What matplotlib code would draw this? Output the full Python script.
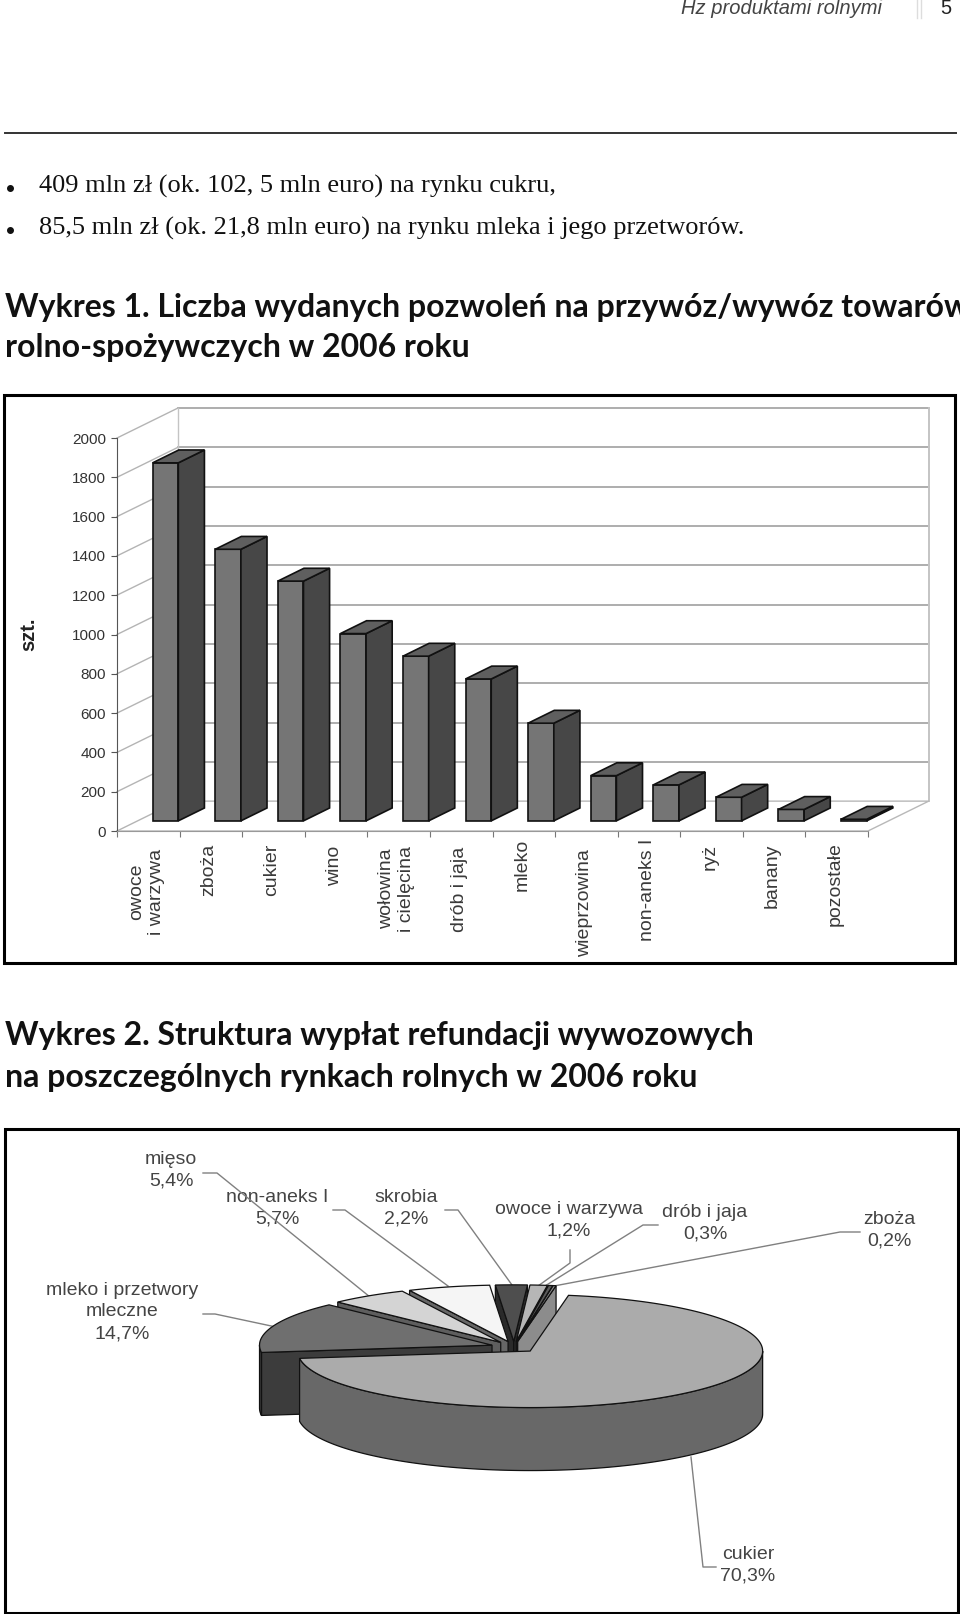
import numpy as np
import matplotlib
matplotlib.use("Agg")
import matplotlib.pyplot as plt
from matplotlib.patches import Polygon, Rectangle

# wykres 1
categories = ["owoce\ni warzywa", "zboża", "cukier", "wino", "wołowina\ni cielęcina",
              "drób i jaja", "mleko", "wieprzowina", "non-aneks I", "ryż", "banany", "pozostałe"]
permits = [1822, 1382, 1220, 953, 838, 722, 497, 230, 183, 120, 58, 8]
y_ticks = [0, 200, 400, 600, 800, 1000, 1200, 1400, 1600, 1800, 2000]

# wykres 2, clockwise from the first slice
pie_names = ["cukier", "mleko i przetwory\nmleczne", "mięso", "non-aneks I", "skrobia",
             "owoce i warzywa", "drób i jaja", "zboża"]
pie_labels = ["70,3%", "14,7%", "5,4%", "5,7%", "2,2%", "1,2%", "0,3%", "0,2%"]
pie_shares = [70.3, 14.7, 5.4, 5.7, 2.2, 1.2, 0.3, 0.2]

# styles and layout, all in pixels of the page
W, H = 960, 1614
top_colors = ["#ababab", "#6f6f6f", "#d4d4d4", "#f5f5f5", "#4e4e4e", "#b6b6b6", "#5a5a5a", "#8e8e8e"]
side_colors = ["#686868", "#3c3c3c", "#5e5e5e", "#666666", "#2a2a2a", "#444444", "#2a2a2a", "#8c8c8c"]
label_tops = [18, 13, 13, 15, 15, 16, 8, 18, 8, 13, 13, 11]
pie_text_xy = [(748, 1565), (122, 1312), (171, 1170), (277, 1208), (406, 1208),
               (569, 1220), (705, 1223), (889, 1230)]
leaders = [[(716, 1567), (703, 1567), (691, 1457)],
           [(203, 1314), (215, 1314), (276, 1327)],
           [(203, 1173), (217, 1173), (370, 1297)],
           [(333, 1210), (345, 1210), (448, 1286)],
           [(445, 1210), (458, 1210), (512, 1285)],
           [(570, 1250), (570, 1263), (538, 1286)],
           [(658, 1225), (643, 1225), (545, 1286)],
           [(860, 1232), (840, 1232), (554, 1286)]]
SERIF = "Liberation Serif"
HEAD = "Lato"
SANS = "Liberation Sans"


def axes_px(fig, left, top, right, bottom):
    return fig.add_axes([left / W, 1 - bottom / H, (right - left) / W, (bottom - top) / H])


fig = plt.figure(figsize=(W / 100, H / 100), dpi=100)
page = fig.add_axes([0, 0, 1, 1])
page.set_xlim(0, W)
page.set_ylim(H, 0)
page.axis("off")

# running head and text
page.text(882, 9, "Hz produktami rolnymi", family="Liberation Sans", style="italic", fontsize=14.5,
          color="#444444", ha="right", va="center")
page.plot([917, 917], [0, 18], color="#dddddd", lw=1)
page.plot([921, 921], [0, 18], color="#dddddd", lw=1)
page.text(946, 9, "5", family=SANS, fontsize=14.5, color="#222222", ha="center", va="center")
page.plot([5, 956], [133, 133], color="#333333", lw=1.4)
for y, line in [(186, "409 mln zł (ok. 102, 5 mln euro) na rynku cukru,"),
                (228, "85,5 mln zł (ok. 21,8 mln euro) na rynku mleka i jego przetworów.")]:
    page.plot([10], [y + 2], "o", color="#111111", ms=4)
    page.text(39, y, line, family=SERIF, fontsize=19, color="#111111", va="center")
for y, line in [(307, "Wykres 1. Liczba wydanych pozwoleń na przywóz/wywóz towarów"),
                (348, "rolno-spożywczych w 2006 roku"),
                (1036, "Wykres 2. Struktura wypłat refundacji wywozowych"),
                (1077, "na poszczególnych rynkach rolnych w 2006 roku")]:
    page.text(5, y, line, family=HEAD, weight="bold", fontsize=23, color="#111111", va="center")
page.add_patch(Rectangle((3.5, 394.5), 951.5, 568.5, fill=False, ec="black", lw=2.2))
page.add_patch(Rectangle((5, 1129), 953, 484, fill=False, ec="black", lw=2.2))

# bar chart: the axes are the front plane of the floor
ax = axes_px(fig, 117, 438, 868, 831)
ax.set_xlim(0, 12)
ax.set_ylim(0, 2000)
ax.patch.set_alpha(0)
DEPTH_X, DEPTH_Y = 0.97, 152
for v in y_ticks[1:]:
    ax.plot([DEPTH_X, 12 + DEPTH_X], [v + DEPTH_Y] * 2, color="#a0a0a0", lw=1.2, clip_on=False, zorder=1)
for v in y_ticks:
    ax.plot([0, DEPTH_X], [v, v + DEPTH_Y], color="#b4b4b4", lw=1, clip_on=False, zorder=1)
ax.plot([DEPTH_X, DEPTH_X], [DEPTH_Y, 2000 + DEPTH_Y], color="#c4c4c4", lw=1, clip_on=False, zorder=1)
ax.plot([12 + DEPTH_X] * 2, [DEPTH_Y, 2000 + DEPTH_Y], color="#c4c4c4", lw=1.4, clip_on=False, zorder=1)
ax.plot([0, 12, 12 + DEPTH_X, DEPTH_X], [0, 0, DEPTH_Y, DEPTH_Y], color="#b8b8b8", lw=1, clip_on=False, zorder=1)

front, back = 0.34, 0.77  # where the bars stand in the depth of the floor
bar_w = 0.41
base = front * DEPTH_Y
xs = np.arange(len(permits)) + 0.445 + front * DEPTH_X
ax.bar(xs, permits, bar_w, bottom=base, color="#757575", ec="#111111", lw=1.2, zorder=3, clip_on=False)
sx = (back - front) * DEPTH_X
sy = (back - front) * DEPTH_Y
for x, val in zip(xs, permits):
    r = x + bar_w / 2
    l = x - bar_w / 2
    t = base + val
    ax.add_patch(Polygon([(r, base), (r + sx, base + sy), (r + sx, t + sy), (r, t)], fc="#474747",
                         ec="#111111", lw=1.2, zorder=3, clip_on=False))
    ax.add_patch(Polygon([(l, t), (r, t), (r + sx, t + sy), (l + sx, t + sy)], fc="#5f5f5f",
                         ec="#111111", lw=1.2, zorder=3, clip_on=False))

for s in ["top", "right"]:
    ax.spines[s].set_visible(False)
ax.spines["left"].set_color("#555555")
ax.spines["bottom"].set_color("#999999")
ax.set_xticks(range(13))
ax.set_xticklabels([])
ax.set_yticks(y_ticks)
ax.tick_params(axis="y", length=4, color="#555555", labelsize=11, labelcolor="#333333", pad=4)
ax.tick_params(axis="x", length=4, color="#777777")
for lab in ax.get_yticklabels():
    lab.set_family(SANS)
ax.set_ylabel("szt.", family=SANS, weight="bold", fontsize=14.5, color="#222222", labelpad=24)
for i, name in enumerate(categories):
    ax.annotate(name, (i + 0.47, 0), xytext=(0, -label_tops[i]), textcoords="offset pixels",
                rotation=90, ha="center", va="top", multialignment="center", linespacing=1.25,
                family=SANS, fontsize=14, color="#3a3a3a")

# pie: unit circle squeezed to an ellipse by the shape of the axes
pie = axes_px(fig, 514 - 232.5, 1347 - 56.5, 514 + 232.5, 1347 + 56.5)
pie.set_xlim(-1, 1)
pie.set_ylim(-1, 1)
pie.axis("off")
START = 80.5
EXPLODE = 0.1
THICK = 1.115
angles = START - np.cumsum([0] + pie_shares) * 360 / sum(pie_shares)


def rim(t0, t1, ox, oy, drop=0.0):
    ts = np.radians(np.linspace(t0, t1, max(int(abs(t1 - t0)), 2) + 1))
    return np.column_stack([ox + np.cos(ts), oy + np.sin(ts) - drop])


def draw_slice(i):
    t0, t1 = angles[i], angles[i + 1]
    mid = np.radians((t0 + t1) / 2)
    ox, oy = EXPLODE * np.cos(mid), EXPLODE * np.sin(mid)
    kw = dict(ec="#111111", lw=0.9, clip_on=False)
    # cut faces that look towards the reader
    for t, normal in [(t0, t0 + 90), (t1, t1 - 90)]:
        if np.sin(np.radians(normal)) < 0:
            e = np.array([ox + np.cos(np.radians(t)), oy + np.sin(np.radians(t))])
            pie.add_patch(Polygon([(ox, oy), e, e - [0, THICK], (ox, oy - THICK)],
                                  fc=side_colors[i], **kw))
    # outer wall, front half only
    a0, a1 = min(t0, -0.0), max(t1, -180.0)
    if a0 > a1:
        wall = np.vstack([rim(a0, a1, ox, oy), rim(a1, a0, ox, oy, THICK)])
        pie.add_patch(Polygon(wall, fc=side_colors[i], **kw))
    elif t0 > 180 and t1 < 360 and t0 < 360:
        a0, a1 = t0, max(t1, 180.0)
        wall = np.vstack([rim(a0, a1, ox, oy), rim(a1, a0, ox, oy, THICK)])
        pie.add_patch(Polygon(wall, fc=side_colors[i], **kw))
    pie.add_patch(Polygon(np.vstack([[ox, oy], rim(t0, t1, ox, oy)]), fc=top_colors[i], **kw))
    return mid


mids = np.radians((angles[:-1] + angles[1:]) / 2)
order = sorted(range(1, len(pie_shares)), key=lambda k: -np.sin(mids[k]))
for k in order + [0]:
    draw_slice(k)
# the piece of the first slice wall left of -180 degrees belongs to the left edge
for k, name in enumerate(pie_names):
    xt, yt = pie_text_xy[k]
    page.text(xt, yt, name + "\n" + pie_labels[k], family=SANS, fontsize=14, color="#444444",
              ha="center", va="center", multialignment="center", linespacing=1.35)
    pts = np.array(leaders[k])
    page.plot(pts[:, 0], pts[:, 1], color="#808080", lw=1, zorder=5)

fig.savefig("out.png", dpi=100)
